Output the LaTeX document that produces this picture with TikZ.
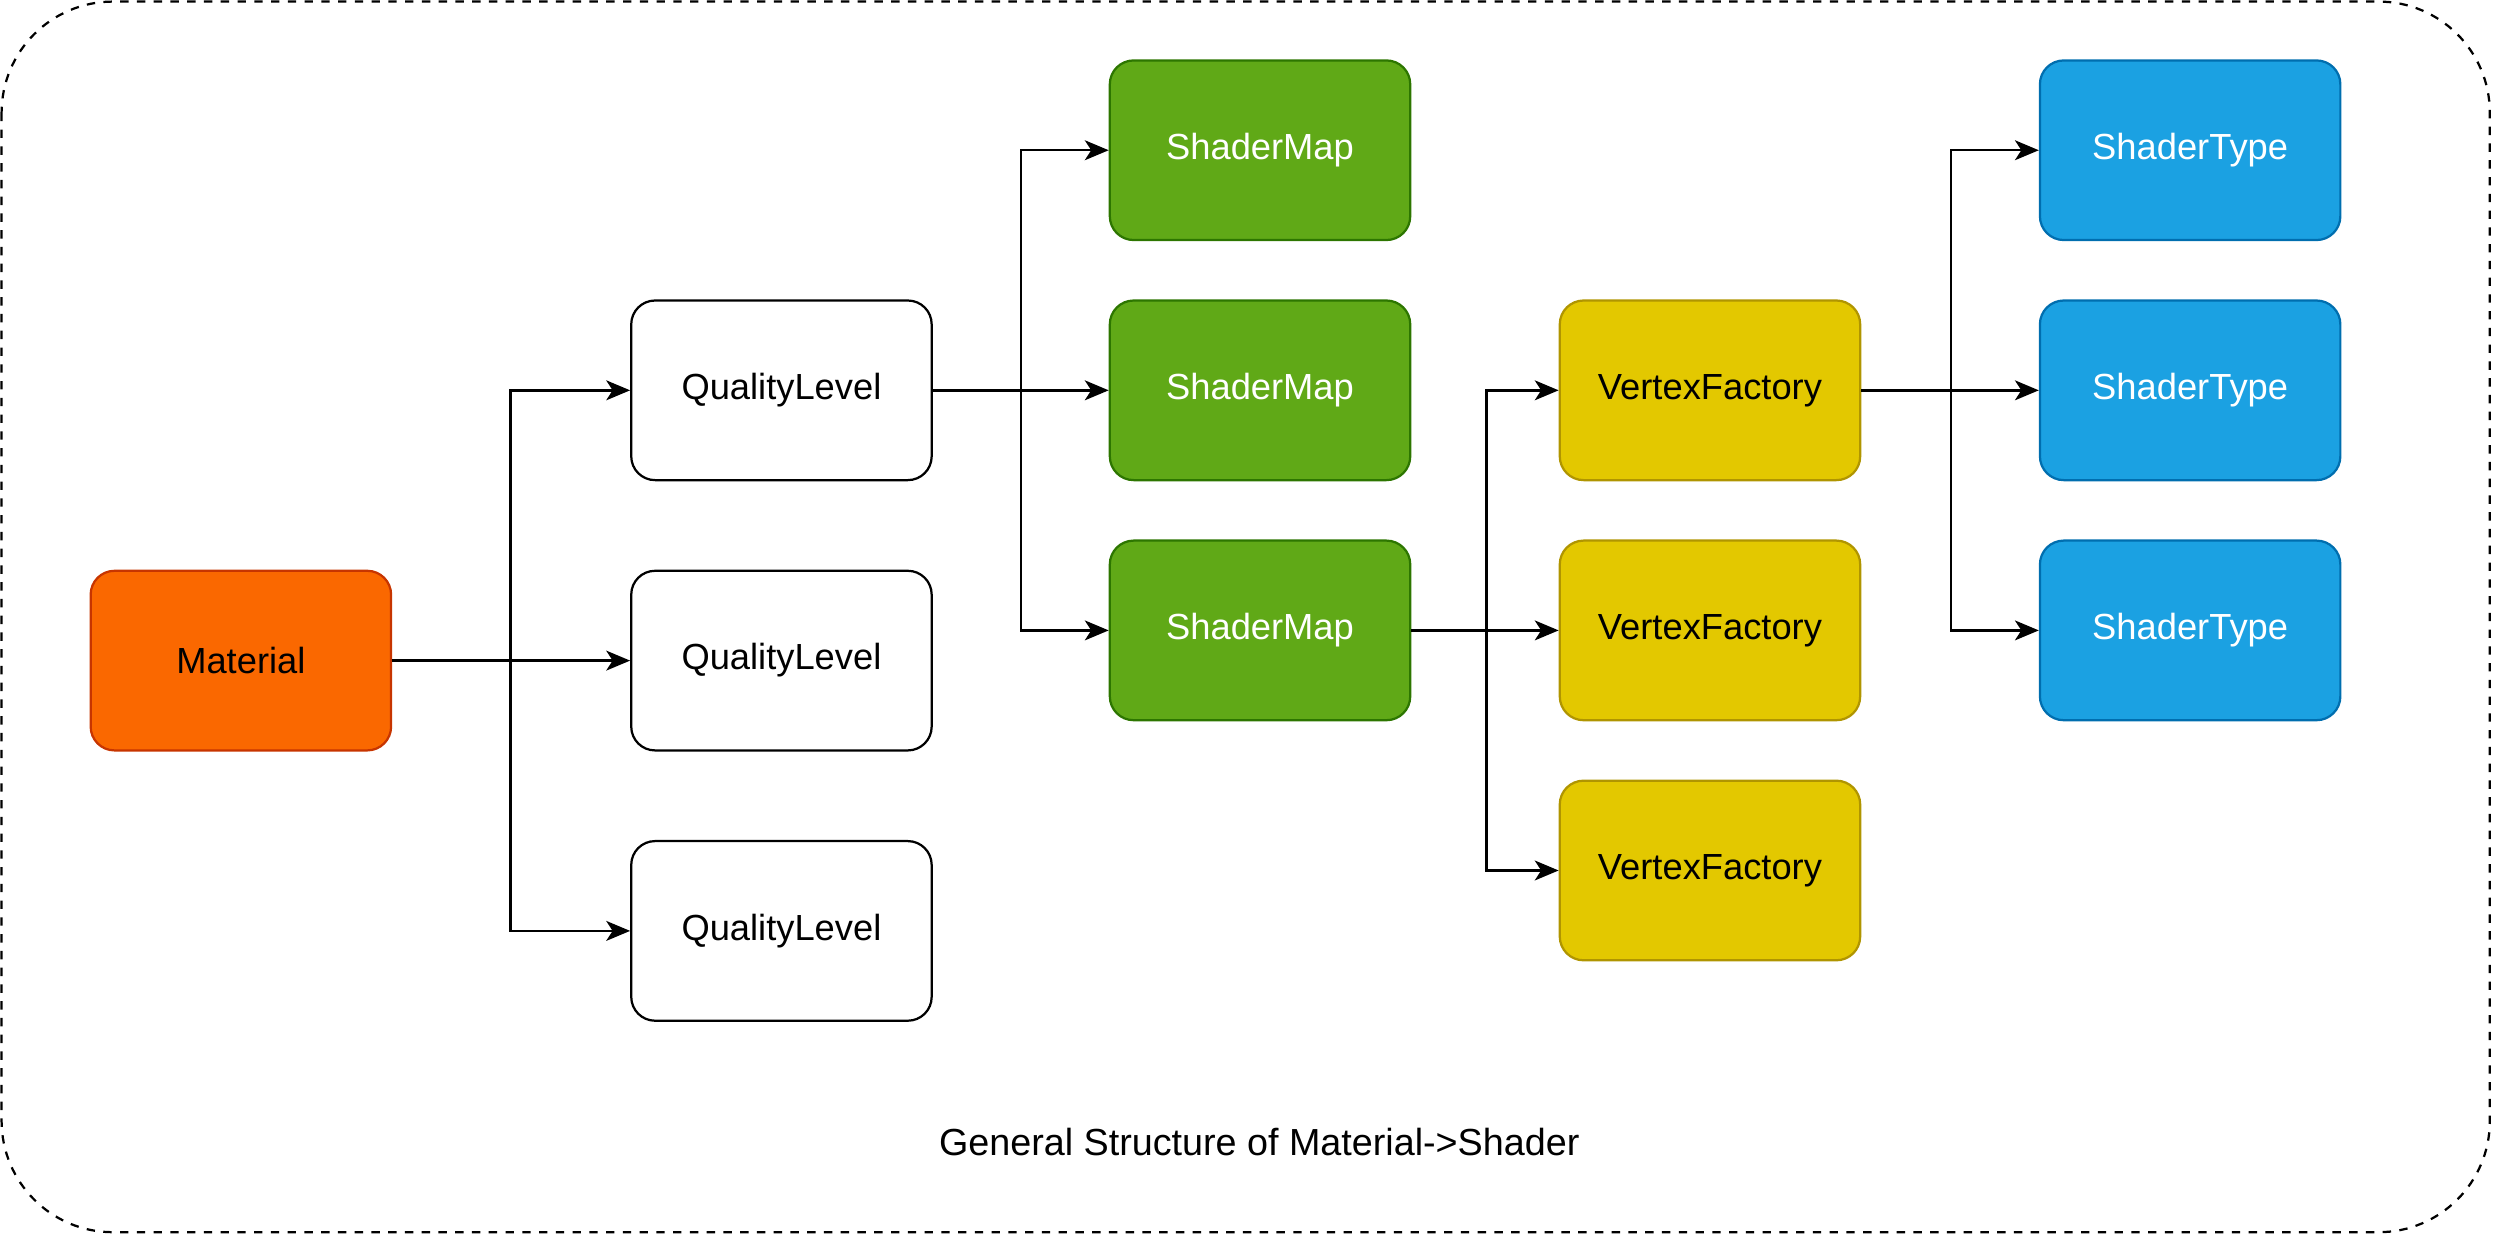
\documentclass[tikz,border=0pt]{standalone}
\usepackage{fontspec}
\setmainfont{Liberation Sans}
\usetikzlibrary{arrows.meta}
\definecolor{orF}{HTML}{FA6800}\definecolor{orD}{HTML}{C73500}
\definecolor{grF}{HTML}{60A917}\definecolor{grD}{HTML}{2D7600}
\definecolor{yeF}{HTML}{E3C800}\definecolor{yeD}{HTML}{B09500}
\definecolor{blF}{HTML}{1BA1E2}\definecolor{blD}{HTML}{006EAF}
\begin{document}
\begin{tikzpicture}[x=0.02cm,y=-0.02cm,
  box/.style={draw,rounded corners=0.3cm,line width=0.8pt,minimum width=3.78cm,minimum height=2.26cm,font=\fontsize{13}{15}\selectfont},
  wh/.style={box,fill=white,draw=black},
  orn/.style={box,fill=orF,draw=orD},
  grn/.style={box,fill=grF,draw=grD,text=white},
  yel/.style={box,fill=yeF,draw=yeD},
  blu/.style={box,fill=blF,draw=blD,text=white},
  arr/.style={-{Stealth[length=0.3cm,width=0.25cm,inset=0.08cm]},line width=0.85pt}]
\useasboundingbox (0,0) rectangle (1568,776);
\draw[dashed,line width=0.8pt,rounded corners=1.4cm] (1,1) rectangle (1566,775);
\node[orn] (mat) at (151.5,415.5) {Material};
\node[wh] (q1) at (491.5,245.5) {QualityLevel};
\node[wh] (q2) at (491.5,415.5) {QualityLevel};
\node[wh] (q3) at (491.5,585.5) {QualityLevel};
\node[grn] (s1) at (792.5,94.5) {ShaderMap};
\node[grn] (s2) at (792.5,245.5) {ShaderMap};
\node[grn] (s3) at (792.5,396.5) {ShaderMap};
\node[yel] (v1) at (1075.5,245.5) {VertexFactory};
\node[yel] (v2) at (1075.5,396.5) {VertexFactory};
\node[yel] (v3) at (1075.5,547.5) {VertexFactory};
\node[blu] (t1) at (1377.5,94.5) {ShaderType};
\node[blu] (t2) at (1377.5,245.5) {ShaderType};
\node[blu] (t3) at (1377.5,396.5) {ShaderType};
\node[font=\fontsize{13.5}{16}\selectfont] (title) at (792,718) {General Structure of Material->Shader};
\coordinate (a) at (321,0);\coordinate (b) at (642,0);
\coordinate (c) at (935,0);\coordinate (d) at (1227,0);
\foreach \t in {q1,q2,q3}{\draw[arr] (mat.east) -- (mat.east -| a) |- (\t.west);}
\foreach \t in {s1,s2,s3}{\draw[arr] (q1.east) -- (q1.east -| b) |- (\t.west);}
\foreach \t in {v1,v2,v3}{\draw[arr] (s3.east) -- (s3.east -| c) |- (\t.west);}
\foreach \t in {t1,t2,t3}{\draw[arr] (v1.east) -- (v1.east -| d) |- (\t.west);}
\end{tikzpicture}
\end{document}
